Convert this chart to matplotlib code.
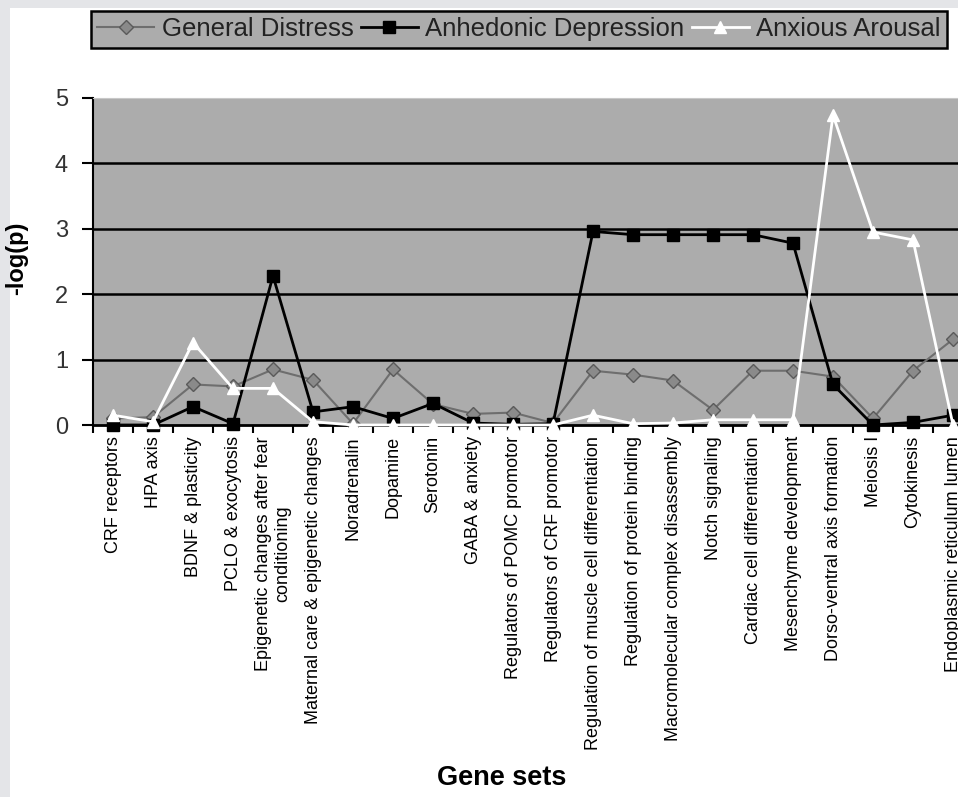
import numpy as np
import matplotlib.pyplot as plt
from matplotlib.patches import Rectangle

plt.rcParams['font.family'] = ['Liberation Sans', 'DejaVu Sans']

gene_sets = ["CRF receptors", "HPA axis", "BDNF & plasticity", "PCLO & exocytosis",
             "Epigenetic changes after fear\nconditioning", "Maternal care & epigenetic changes",
             "Noradrenalin", "Dopamine", "Serotonin", "GABA & anxiety",
             "Regulators of POMC promotor", "Regulators of CRF promotor",
             "Regulation of muscle cell differentiation", "Regulation of protein binding",
             "Macromolecular complex disassembly", "Notch signaling",
             "Cardiac cell differentiation", "Mesenchyme development",
             "Dorso-ventral axis formation", "Meiosis I", "Cytokinesis",
             "Endoplasmic reticulum lumen"]
general_distress = [0.10, 0.12, 0.62, 0.59, 0.85, 0.69, 0.02, 0.85, 0.32, 0.17, 0.19, 0.03,
                    0.83, 0.77, 0.68, 0.23, 0.83, 0.83, 0.74, 0.10, 0.83, 1.31]
anhedonic_depression = [0.00, 0.00, 0.28, 0.02, 2.28, 0.20, 0.28, 0.10, 0.33, 0.03, 0.01, 0.02,
                        2.96, 2.91, 2.91, 2.91, 2.91, 2.78, 0.62, 0.00, 0.04, 0.15]
anxious_arousal = [0.15, 0.05, 1.26, 0.56, 0.56, 0.05, 0.00, 0.00, 0.00, 0.00, 0.00, 0.00,
                   0.15, 0.02, 0.03, 0.08, 0.08, 0.08, 4.74, 2.95, 2.83, 0.00]

x = np.arange(len(gene_sets))

fig = plt.figure(figsize=(9.58, 7.97), dpi=100, facecolor='white')
# light grey page border on the left and top
fig.patches.append(Rectangle((0, 0), 10/958, 1, transform=fig.transFigure,
                             facecolor='#e4e5e8', edgecolor='none', zorder=-10))
fig.patches.append(Rectangle((0, 1 - 8/797), 1, 8/797, transform=fig.transFigure,
                             facecolor='#e4e5e8', edgecolor='none', zorder=-10))

ax = fig.add_axes([93/958, 1 - 425/797, 1 - 93/958, (425 - 98)/797])
ax.set_facecolor('#acacac')

for yv in [1, 2, 3, 4]:
    ax.axhline(yv, color='black', lw=1.8, zorder=1)

ax.plot(x, general_distress, color='#6e6e6e', lw=1.5, marker='D', ms=7,
        mfc='#8a8a8a', mec='#5a5a5a', label='General Distress', clip_on=False, zorder=3)
ax.plot(x, anhedonic_depression, color='black', lw=2, marker='s', ms=8,
        mfc='black', mec='black', label='Anhedonic Depression', clip_on=False, zorder=4)
ax.plot(x, anxious_arousal, color='white', lw=2, marker='^', ms=9,
        mfc='white', mec='white', label='Anxious Arousal', clip_on=False, zorder=5)

ax.set_xlim(-0.5, 21.125)
ax.set_ylim(0, 5)
ax.set_yticks([0, 1, 2, 3, 4, 5])
ax.tick_params(axis='y', labelsize=17, labelcolor='#333333', length=8, width=1.5, pad=10)

ax.set_xticks(x)
ax.set_xticklabels(gene_sets, rotation=90, fontsize=13, va='top', ha='center',
                   multialignment='center')
ax.tick_params(axis='x', length=0, pad=8)
ax.set_xticks(np.arange(-0.5, 21.5, 1), minor=True)
ax.tick_params(axis='x', which='minor', length=6, width=1.5, direction='out')

ax.spines['left'].set_linewidth(1.5)
ax.spines['bottom'].set_linewidth(2)
ax.spines['top'].set_color('#c8c8c8')
ax.spines['right'].set_visible(False)

ax.set_ylabel('-log(p)', fontsize=17, fontweight='bold')
ax.yaxis.set_label_coords(-0.075, 0.51)
fig.text(502/958, 1 - 778/797, 'Gene sets', fontsize=19.5, fontweight='bold',
         ha='center', va='center')

leg = fig.legend(loc='upper left', bbox_to_anchor=(91/958, 1 - 11/797), ncol=3,
                 fontsize=18.5, frameon=True, fancybox=False, borderaxespad=0,
                 handlelength=2.2, handletextpad=0.3, columnspacing=0.3,
                 borderpad=0.25, labelcolor='#222222')
leg.get_frame().set_facecolor('#acacac')
leg.get_frame().set_edgecolor('black')
leg.get_frame().set_linewidth(1.8)
leg.get_frame().set_alpha(1)

fig.savefig('out.png', dpi=100)
